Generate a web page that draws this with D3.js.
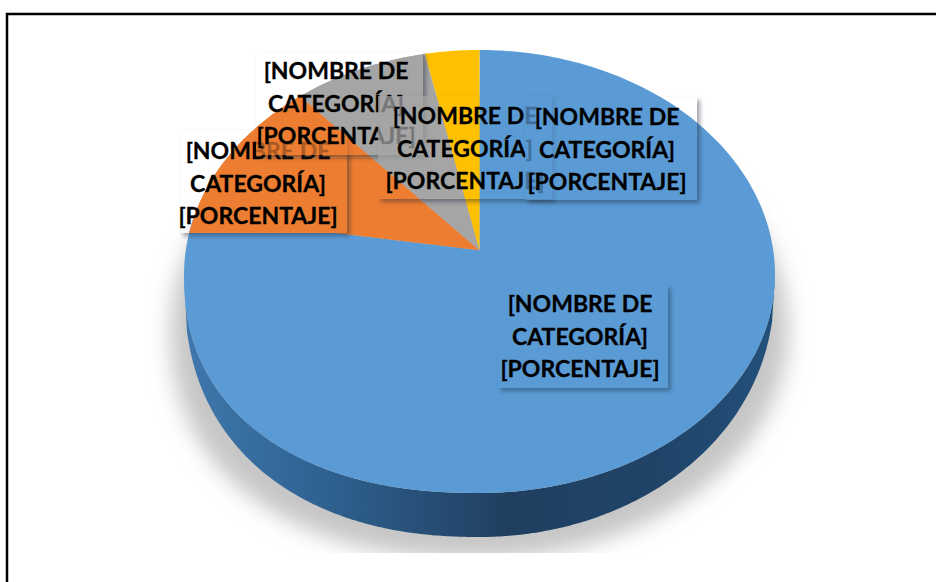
<!DOCTYPE html>
<html>
<head>
<meta charset="utf-8">
<script src="https://cdnjs.cloudflare.com/ajax/libs/d3/7.8.5/d3.min.js"></script>
<style>
html, body { margin: 0; padding: 0; background: #fff; }
svg { display: block; }
text { font-family: Lato, "Noto Sans", sans-serif; font-weight: 700; font-size: 23px; fill: #000; stroke: #000; stroke-width: 0.3px; text-anchor: middle; }
</style>
</head>
<body>
<div id="chart"></div>
<script>
// slices, clockwise from twelve o'clock
const categories = ['Azul', 'Naranja', 'Gris', 'Amarillo'];
const shares = [77.5, 11.0, 8.2, 3.3];
const sliceColors = ['#5b9bd5', '#ed7d31', '#a5a5a5', '#ffc000'];

const labelLines = ['[NOMBRE DE', 'CATEGORÍA]', '[PORCENTAJE]'];
// drawn in this order, each box partly hides the ones before it
const labelSlices = [1, 2, 3, 0, 0];
const labelBoxes = [
	{x: 180, y: 130, w: 167, h: 103, tx: 258, ty: 159, flat: true},
	{x: 256, y: 52, w: 167, h: 103, tx: 336, ty: 79},
	{x: 378, y: 96, w: 174, h: 103, tx: 465, ty: 124},
	{x: 525, y: 97, w: 172, h: 103, tx: 607, ty: 125},
	{x: 498, y: 285, w: 170, h: 103, tx: 580, ty: 312}
];

const width = 936, height = 582;

const svg = d3.select('#chart').append('svg')
	.attr('width', width)
	.attr('height', height);

const defs = svg.append('defs');
defs.append('filter').attr('id', 'soft').attr('x', '-20%').attr('y', '-20%').attr('width', '140%').attr('height', '140%')
	.append('feGaussianBlur').attr('stdDeviation', 10);
defs.append('filter').attr('id', 'boxShadow').attr('x', '-10%').attr('y', '-10%').attr('width', '120%').attr('height', '120%')
	.append('feGaussianBlur').attr('stdDeviation', 2.2);
const wallGrad = defs.append('linearGradient').attr('id', 'wall');
wallGrad.append('stop').attr('offset', '0%').attr('stop-color', '#3f78ad');
wallGrad.append('stop').attr('offset', '25%').attr('stop-color', '#2e608f');
wallGrad.append('stop').attr('offset', '55%').attr('stop-color', '#203f60');
wallGrad.append('stop').attr('offset', '80%').attr('stop-color', '#1f4468');
wallGrad.append('stop').attr('offset', '100%').attr('stop-color', '#23507a');
defs.append('clipPath').attr('id', 'plotClip').append('rect')
	.attr('x', 8).attr('y', 16).attr('width', 920).attr('height', 537);

// pie plane to screen, top half of the ellipse is a little taller than the bottom
const xScale = d3.scaleLinear().domain([-1, 1]).range([184, 775]);
const yScale = d3.scaleLinear().domain([-1, 0, 1]).range([50, 275, 493]);
const wallDepth = 44;

// lower rim height at u, the lower left of the pie bulges out past a true ellipse
function lowerRim(u) {
	const p = u < 0 ? 2.25 : 2;
	return Math.pow(1 - Math.pow(Math.abs(u), p), 1 / p);
}

// tilt moves the apex above the middle of the ellipse
const tilt = -0.11;
function toPlane(x, y) {
	const d = 1 + tilt * y;
	return [x * Math.sqrt(1 - tilt * tilt) / d, (y + tilt) / d];
}
const toScreen = p => [xScale(p[0]), yScale(p[1])];

const pie = d3.pie().sort(null).value(d => d);
const slices = pie(shares);

function rimPoints(a0, a1) {
	const n = Math.max(2, Math.ceil((a1 - a0) * 60));
	return d3.range(n + 1).map(i => {
		const a = a0 + (a1 - a0) * i / n;
		const p = toPlane(Math.sin(a), -Math.cos(a));
		return toScreen(p[1] > 0 ? [p[0], lowerRim(p[0])] : p);
	});
}
const polyline = d3.line();
const slicePath = s => polyline([toScreen(toPlane(0, 0)), ...rimPoints(s.startAngle, s.endAngle)]) + 'Z';

// drop shadow
const disc = rimPoints(0, 2 * Math.PI);
const discPath = polyline(disc) + 'Z';
defs.append('clipPath').attr('id', 'discClip').append('path').attr('d', discPath);
svg.append('g').attr('clip-path', 'url(#plotClip)')
	.append('path')
	.attr('d', discPath)
	.attr('fill', '#c6c6c6')
	.attr('filter', 'url(#soft)')
	.attr('transform', 'translate(480,275) scale(1.045,1.05) translate(-480,-275) translate(0,52)');

// side wall, front half of the rim going down by wallDepth
const front = d3.range(-1, 1.0001, 0.01);
const wallArea = d3.area()
	.x(d => xScale(d))
	.y0(d => yScale(lowerRim(d)))
	.y1(d => yScale(lowerRim(d)) + wallDepth * Math.pow(1 - d * d, 0.25));
svg.append('path').datum(front)
	.attr('d', wallArea)
	.attr('fill', 'url(#wall)');

// top face, kept in defs as well so the label boxes can show it again
const face = defs.append('g').attr('id', 'face');
face.selectAll('path').data(slices).join('path')
	.attr('d', slicePath)
	.attr('fill', (d, i) => sliceColors[i])
	.attr('data-category', (d, i) => categories[i]);
svg.append('use').attr('href', '#face');

// labels with their boxes
labelBoxes.forEach((b, i) => {
	const clipId = 'boxClip' + i;
	const maskId = 'boxMask' + i;
	defs.append('clipPath').attr('id', clipId).append('rect')
		.attr('x', b.x).attr('y', b.y).attr('width', b.w).attr('height', b.h);
	// the shadow only shows outside the box, on the right and bottom
	const mask = defs.append('mask').attr('id', maskId).attr('maskUnits', 'userSpaceOnUse')
		.attr('x', 0).attr('y', 0).attr('width', width).attr('height', height);
	mask.append('rect').attr('width', width).attr('height', height).attr('fill', '#fff');
	mask.append('rect').attr('x', b.x).attr('y', b.y).attr('width', b.w).attr('height', b.h).attr('fill', '#000');

	const g = svg.append('g').attr('data-slice', categories[labelSlices[i]]);
	g.append('g').attr('mask', 'url(#' + maskId + ')')
		.append('rect')
		.attr('x', b.x + 3).attr('y', b.y + 3).attr('width', b.w).attr('height', b.h)
		.attr('fill', '#1b2a3a').attr('opacity', 0.42)
		.attr('filter', 'url(#boxShadow)');
	g.append('g').attr('clip-path', 'url(#' + clipId + ')').attr('opacity', 0.72)
		.append('use').attr('href', '#face');
	if (b.flat) {
		g.append('g').attr('clip-path', 'url(#discClip)')
			.append('rect')
			.attr('x', b.x).attr('y', b.y).attr('width', b.w).attr('height', b.h)
			.attr('fill', sliceColors[labelSlices[i]]);
	}
	g.selectAll('text').data(labelLines).join('text')
		.attr('x', b.tx)
		.attr('y', (d, j) => b.ty + j * 32.5)
		.text(d => d);
});

// the frame is only drawn along the top and the left
svg.append('path')
	.attr('d', d3.line()([[7, height], [7, 14], [width, 14]]))
	.attr('fill', 'none').attr('stroke', '#000').attr('stroke-width', 2.5);
</script>
</body>
</html>
